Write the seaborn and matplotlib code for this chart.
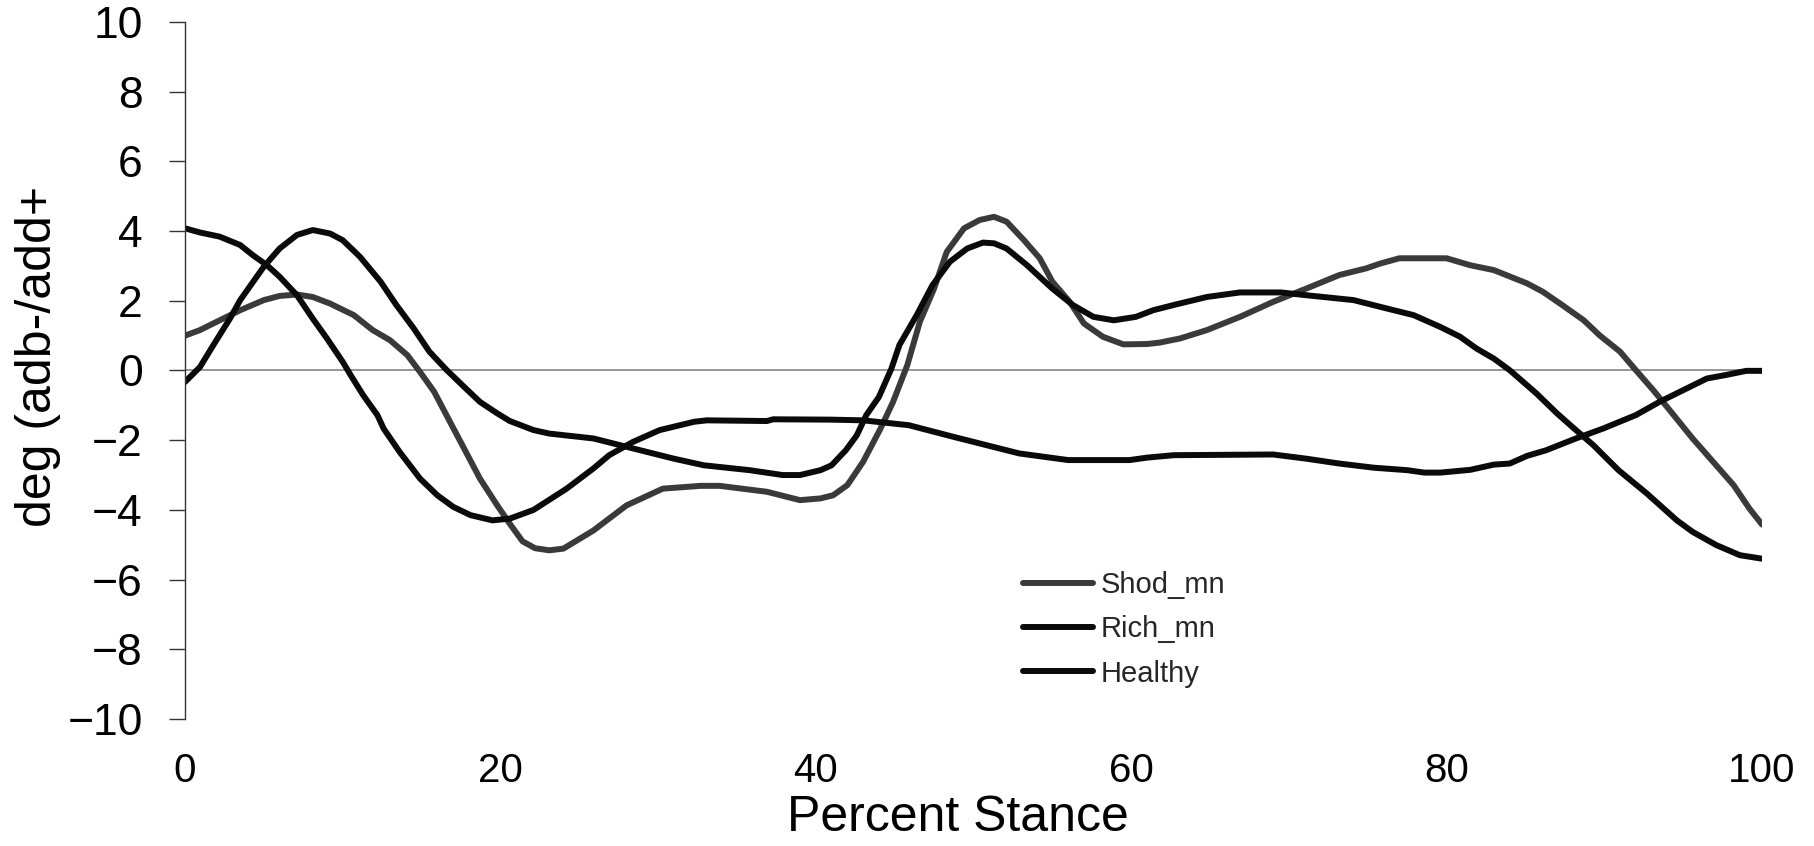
import matplotlib
matplotlib.use("Agg")
import matplotlib.pyplot as plt
import seaborn as sns
import pandas as pd

# ---- data ----
shod_x = [0, 0.95, 2.2, 3.5, 5.0, 6.0, 7.1, 8.1, 9.2, 10.7, 11.9, 13.0, 14.1, 14.9, 15.8,
          16.8, 17.7, 18.7, 19.8, 20.6, 21.4, 22.2, 23.1, 24.0, 25.9, 28.0, 30.3, 32.7, 33.9,
          36.9, 39.0, 40.3, 41.1, 42.0, 43.0, 44.1, 44.9, 45.8, 46.6, 47.5, 48.3, 49.4, 50.4,
          51.3, 52.1, 53.2, 54.2, 55.0, 56.1, 57.0, 58.2, 59.5, 61.0, 61.8, 63.1, 64.8, 66.9,
          69.0, 71.1, 73.2, 74.9, 75.8, 77.0, 80.0, 81.5, 83.0, 85.1, 86.1, 87.2, 88.7, 89.7,
          91.0, 92.0, 93.1, 94.4, 95.6, 96.9, 98.2, 99.2, 100]
shod_y = [1.0, 1.16, 1.44, 1.73, 2.02, 2.14, 2.18, 2.11, 1.92, 1.59, 1.16, 0.87, 0.44, -0.04, -0.61,
          -1.47, -2.24, -3.1, -3.87, -4.4, -4.9, -5.1, -5.16, -5.11, -4.59, -3.87, -3.39, -3.31, -3.31,
          -3.48, -3.72, -3.67, -3.58, -3.29, -2.62, -1.67, -0.9, 0.15, 1.4, 2.35, 3.4, 4.08, 4.32,
          4.41, 4.27, 3.74, 3.22, 2.55, 1.97, 1.35, 0.97, 0.75, 0.76, 0.8, 0.92, 1.16, 1.54,
          1.97, 2.35, 2.74, 2.93, 3.07, 3.22, 3.22, 3.02, 2.88, 2.5, 2.26, 1.92, 1.44, 1.01,
          0.54, 0.01, -0.56, -1.28, -1.95, -2.62, -3.29, -3.96, -4.42]

rich_x = [0, 0.95, 1.8, 2.85, 3.5, 5.0, 6.0, 7.1, 8.1, 9.2, 10.0, 11.1, 12.4, 13.4, 14.5, 15.5,
          16.6, 17.7, 18.7, 19.8, 20.6, 22.1, 23.1, 25.9, 28.0, 31.0, 32.9, 35.8, 37.9, 39.0, 40.3,
          41.0, 41.9, 42.6, 43.2, 44.0, 44.8, 45.3, 46.4, 47.4, 48.5, 49.6, 50.6, 51.3, 52.1, 53.4,
          55.0, 56.3, 57.6, 58.9, 60.3, 61.4, 62.7, 64.8, 66.9, 69.5, 71.1, 74.1, 76.2, 77.9, 79.6,
          80.85, 81.9, 83.0, 84.0, 85.7, 87.0, 88.2, 89.3, 90.9, 92.7, 94.6, 95.6, 97.1, 98.6, 100]
rich_y = [-0.33, 0.1, 0.73, 1.49, 2.02, 2.98, 3.5, 3.89, 4.03, 3.93, 3.74, 3.26, 2.55, 1.88, 1.21, 0.54,
          0.01, -0.47, -0.9, -1.23, -1.45, -1.71, -1.81, -1.95, -2.19, -2.53, -2.72, -2.86, -3.0, -3.0, -2.86,
          -2.72, -2.29, -1.86, -1.28, -0.76, 0.06, 0.73, 1.59, 2.45, 3.12, 3.5, 3.67, 3.65, 3.5, 3.02,
          2.35, 1.88, 1.54, 1.44, 1.54, 1.73, 1.88, 2.11, 2.24, 2.24, 2.16, 2.02, 1.78, 1.59, 1.25,
          0.97, 0.63, 0.34, 0.01, -0.66, -1.23, -1.71, -2.14, -2.86, -3.53, -4.3, -4.63, -5.01, -5.3, -5.4]

healthy_x = [0, 0.95, 2.2, 3.5, 4.3, 5.2, 6.0, 7.1, 8.1, 9.0, 10.0, 10.5, 11.3, 12.2, 12.6, 13.6,
             14.9, 16.0, 17.0, 18.1, 19.5, 20.6, 22.1, 24.2, 25.9, 26.9, 28.4, 30.1, 32.3, 33.1, 36.9,
             37.3, 40.9, 43.0, 45.9, 48.7, 50.8, 52.9, 56.0, 59.9, 61.0, 62.7, 69.0, 71.1, 73.2, 75.4,
             77.5, 78.6, 79.6, 81.5, 83.0, 84.0, 85.1, 86.3, 88.2, 89.9, 92.0, 93.5, 95.2, 96.5, 97.7,
             99.0, 100]
healthy_y = [4.08, 3.96, 3.84, 3.6, 3.31, 3.02, 2.69, 2.16, 1.49, 0.92, 0.25, -0.13, -0.71, -1.28, -1.67, -2.33,
             -3.1, -3.58, -3.91, -4.15, -4.3, -4.25, -4.0, -3.39, -2.81, -2.43, -2.05, -1.71, -1.47, -1.43, -1.45,
             -1.4, -1.41, -1.43, -1.57, -1.9, -2.14, -2.38, -2.57, -2.57, -2.5, -2.43, -2.41, -2.53, -2.67, -2.79,
             -2.86, -2.93, -2.93, -2.85, -2.7, -2.67, -2.45, -2.29, -1.95, -1.67, -1.28, -0.9, -0.52, -0.23, -0.13,
             -0.01, -0.01]

series_names = ["Shod_mn", "Rich_mn", "Healthy"]
series_colors = ["#3a3a3a", "#0a0a0a", "#0a0a0a"]
x_ticks = [0, 20, 40, 60, 80, 100]
y_ticks = [-10, -8, -6, -4, -2, 0, 2, 4, 6, 8, 10]

# ---- style ----
sns.set_theme(style="white")
plt.rcParams["font.family"] = ["Liberation Sans", "DejaVu Sans"]
plt.rcParams["axes.unicode_minus"] = True

W, H = 1815, 846
fig = plt.figure(figsize=(W / 100, H / 100), dpi=100)
ax = fig.add_axes([185 / W, 1 - 719 / H, (1762 - 185) / W, (719 - 22) / H])

frames = []
for name, xs, ys in zip(series_names, [shod_x, rich_x, healthy_x], [shod_y, rich_y, healthy_y]):
    frames.append(pd.DataFrame({"pct": xs, "deg": ys, "series": name}))
df = pd.concat(frames, ignore_index=True)

ax.axhline(0, color="#7a7a7a", lw=1.1, zorder=1)

LW = 4.3
for name, col in zip(series_names, series_colors):
    sub = df[df["series"] == name]
    sns.lineplot(data=sub, x="pct", y="deg", ax=ax, color=col, lw=LW,
                 label=name, estimator=None, sort=False, zorder=3,
                 solid_capstyle="round", solid_joinstyle="round")

ax.set_xlim(0, 100)
ax.set_ylim(-10, 10)
ax.set_xticks(x_ticks)
ax.set_yticks(y_ticks)

for s in ["top", "right", "bottom"]:
    ax.spines[s].set_visible(False)
ax.spines["left"].set_color("#333333")
ax.spines["left"].set_linewidth(1.0)
ax.spines["left"].set_zorder(4)

ax.tick_params(axis="y", which="major", left=True, length=11.5, width=1.0,
               color="#333333", pad=19, labelsize=32, labelcolor="black", direction="out")
ax.tick_params(axis="x", which="major", bottom=False, length=0, pad=24,
               labelsize=29, labelcolor="black")

ax.set_xlabel("Percent Stance", fontsize=36, color="black", va="center")
ax.xaxis.set_label_coords((958 - 185) / 1577, (719 - 818) / 697)
ax.set_ylabel("deg (adb-/add+", fontsize=36, color="black", va="center")
ax.yaxis.set_label_coords((38 - 185) / 1577, (719 - 356) / 697)

leg = ax.legend(loc="upper left", bbox_to_anchor=(1023 / W, 1 - 571 / H),
                bbox_transform=fig.transFigure, frameon=False, fontsize=21,
                handlelength=2.4, handletextpad=0.25, labelspacing=0.56,
                borderpad=0, borderaxespad=0)
for h in leg.get_lines():
    h.set_linewidth(LW)
    h.set_solid_capstyle("round")

fig.savefig("out.png", dpi=100, facecolor="white")
